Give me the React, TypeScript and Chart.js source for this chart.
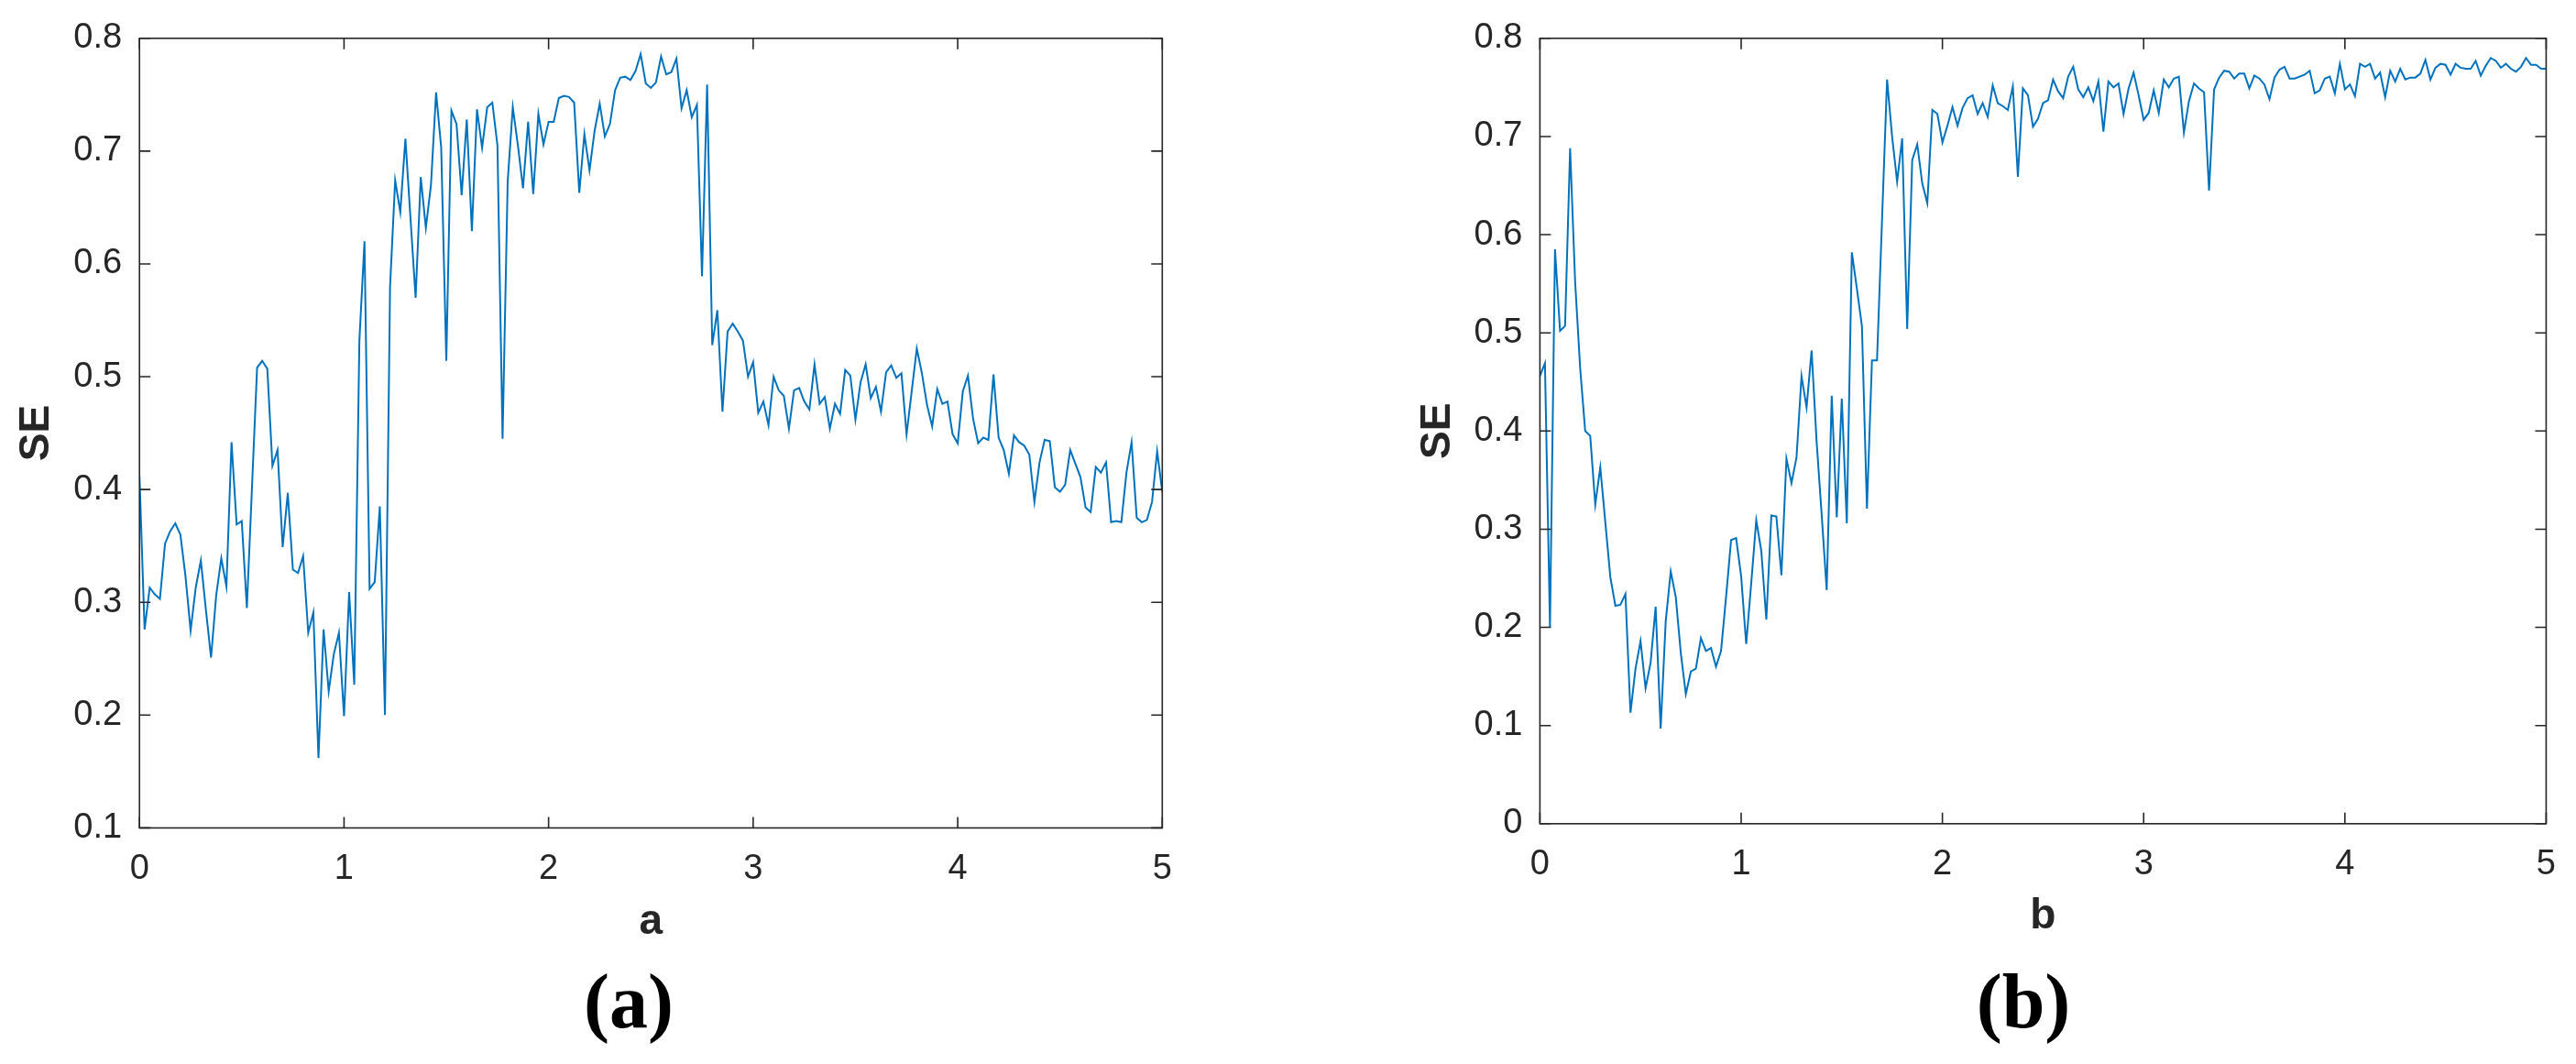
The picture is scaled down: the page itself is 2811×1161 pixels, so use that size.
import React, { useEffect, useRef } from "react";
import { Chart, registerables } from "chart.js";

Chart.register(...registerables);

// ---------- data ----------
const xStep = 0.025; // sample spacing on the x axis (201 samples from 0 to 5)

const seA = [
  0.412, 0.276, 0.313, 0.307, 0.303, 0.352, 0.363, 0.370, 0.360, 0.323,
  0.275, 0.313, 0.337, 0.293, 0.251, 0.306, 0.339, 0.314, 0.442, 0.369,
  0.372, 0.295, 0.402, 0.508, 0.514, 0.507, 0.421, 0.435, 0.349, 0.397,
  0.329, 0.326, 0.341, 0.273, 0.291, 0.162, 0.276, 0.221, 0.254, 0.273,
  0.199, 0.309, 0.227, 0.532, 0.620, 0.312, 0.318, 0.385, 0.200, 0.580,
  0.674, 0.646, 0.711, 0.640, 0.570, 0.677, 0.632, 0.670, 0.752, 0.703,
  0.514, 0.736, 0.724, 0.661, 0.728, 0.629, 0.737, 0.703, 0.739, 0.743,
  0.705, 0.445, 0.673, 0.739, 0.705, 0.667, 0.726, 0.662, 0.733, 0.706,
  0.726, 0.726, 0.747, 0.749, 0.748, 0.743, 0.663, 0.715, 0.683, 0.718,
  0.742, 0.713, 0.724, 0.754, 0.765, 0.766, 0.763, 0.771, 0.786, 0.760,
  0.756, 0.761, 0.784, 0.768, 0.770, 0.782, 0.738, 0.754, 0.730, 0.741,
  0.589, 0.759, 0.528, 0.559, 0.469, 0.540, 0.547, 0.540, 0.532, 0.500,
  0.513, 0.468, 0.478, 0.457, 0.500, 0.488, 0.483, 0.454, 0.488, 0.490,
  0.478, 0.471, 0.511, 0.476, 0.482, 0.454, 0.476, 0.467, 0.506, 0.501,
  0.462, 0.495, 0.511, 0.481, 0.491, 0.469, 0.504, 0.510, 0.499, 0.503,
  0.449, 0.487, 0.525, 0.503, 0.475, 0.456, 0.489, 0.476, 0.478, 0.449,
  0.441, 0.487, 0.501, 0.463, 0.441, 0.446, 0.444, 0.502, 0.446, 0.435,
  0.414, 0.448, 0.442, 0.439, 0.431, 0.389, 0.424, 0.444, 0.443, 0.402,
  0.398, 0.404, 0.435, 0.423, 0.411, 0.384, 0.380, 0.420, 0.415, 0.424,
  0.371, 0.372, 0.371, 0.415, 0.442, 0.375, 0.371, 0.373, 0.389, 0.434,
  0.398,
];

const seB = [
  0.456, 0.469, 0.200, 0.585, 0.502, 0.507, 0.688, 0.552, 0.464, 0.400,
  0.395, 0.325, 0.363, 0.307, 0.251, 0.222, 0.223, 0.234, 0.113, 0.158,
  0.186, 0.138, 0.164, 0.221, 0.097, 0.206, 0.257, 0.231, 0.174, 0.132,
  0.155, 0.158, 0.189, 0.176, 0.179, 0.160, 0.176, 0.231, 0.289, 0.291,
  0.252, 0.183, 0.245, 0.309, 0.278, 0.208, 0.314, 0.313, 0.253, 0.372,
  0.347, 0.373, 0.456, 0.424, 0.482, 0.389, 0.315, 0.238, 0.436, 0.312,
  0.433, 0.306, 0.582, 0.545, 0.507, 0.321, 0.472, 0.472, 0.615, 0.758,
  0.700, 0.654, 0.698, 0.504, 0.676, 0.692, 0.652, 0.632, 0.727, 0.723,
  0.694, 0.711, 0.730, 0.711, 0.729, 0.739, 0.742, 0.723, 0.734, 0.720,
  0.752, 0.734, 0.731, 0.727, 0.751, 0.659, 0.749, 0.742, 0.710, 0.718,
  0.734, 0.737, 0.758, 0.746, 0.739, 0.761, 0.771, 0.748, 0.740, 0.750,
  0.736, 0.756, 0.705, 0.756, 0.750, 0.754, 0.723, 0.749, 0.765, 0.742,
  0.717, 0.724, 0.747, 0.724, 0.758, 0.750, 0.759, 0.761, 0.704, 0.736,
  0.754, 0.749, 0.745, 0.645, 0.748, 0.760, 0.767, 0.766, 0.759, 0.764,
  0.764, 0.749, 0.762, 0.759, 0.753, 0.738, 0.760, 0.768, 0.771, 0.759,
  0.759, 0.761, 0.763, 0.767, 0.744, 0.747, 0.759, 0.761, 0.744, 0.774,
  0.748, 0.753, 0.741, 0.774, 0.771, 0.774, 0.759, 0.765, 0.740, 0.767,
  0.756, 0.769, 0.758, 0.760, 0.760, 0.764, 0.778, 0.758, 0.770, 0.774,
  0.773, 0.763, 0.774, 0.770, 0.769, 0.769, 0.777, 0.762, 0.772, 0.780,
  0.777, 0.770, 0.774, 0.769, 0.766, 0.771, 0.780, 0.773, 0.773, 0.769,
  0.769,
];

const xTicks = [0, 1, 2, 3, 4, 5];
const xTickLabels = ["0", "1", "2", "3", "4", "5"];
const yTicksA = [0.1, 0.2, 0.3, 0.4, 0.5, 0.6, 0.7, 0.8];
const yTickLabelsA = ["0.1", "0.2", "0.3", "0.4", "0.5", "0.6", "0.7", "0.8"];
const yTicksB = [0, 0.1, 0.2, 0.3, 0.4, 0.5, 0.6, 0.7, 0.8];
const yTickLabelsB = ["0", "0.1", "0.2", "0.3", "0.4", "0.5", "0.6", "0.7", "0.8"];

const yTitle = "SE";
const xTitleA = "a";
const xTitleB = "b";
const captionA = "(a)";
const captionB = "(b)";

// ---------- style ----------
const LINE_COLOR = "#0072BD";
const AXIS_COLOR = "#262626";
const TICK_FONT = { family: "'Liberation Sans', Arial, Helvetica, sans-serif", size: 38, lineHeight: 1.2 };
const TITLE_FONT = { family: "'Liberation Sans', Arial, Helvetica, sans-serif", size: 46, weight: "bold" as const, lineHeight: 1.2 };
const TICK_LEN = 12;

const boxPlugin = {
  id: "matlabBox",
  afterDatasetsDraw(chart: any, _args: any, opts: any) {
    const { ctx, chartArea } = chart;
    const { left, right, top, bottom } = chartArea;
    const xs = chart.scales.x;
    const ys = chart.scales.y;
    ctx.save();
    ctx.strokeStyle = AXIS_COLOR;
    ctx.lineWidth = 1.6;
    ctx.strokeRect(left, top, right - left, bottom - top);
    ctx.beginPath();
    xs.ticks.forEach((t: any) => {
      const px = xs.getPixelForValue(t.value);
      ctx.moveTo(px, bottom);
      ctx.lineTo(px, bottom - TICK_LEN);
      ctx.moveTo(px, top);
      ctx.lineTo(px, top + TICK_LEN);
    });
    ys.ticks.forEach((t: any) => {
      const py = ys.getPixelForValue(t.value);
      ctx.moveTo(left, py);
      ctx.lineTo(left + TICK_LEN, py);
      ctx.moveTo(right, py);
      ctx.lineTo(right - TICK_LEN, py);
    });
    ctx.stroke();
    if (opts && opts.caption) {
      ctx.fillStyle = "#000";
      ctx.font = "bold 84px 'Liberation Serif', 'Times New Roman', serif";
      ctx.textAlign = "center";
      ctx.textBaseline = "alphabetic";
      ctx.fillText(opts.caption, opts.captionX, opts.captionY);
    }
    ctx.restore();
  },
};

type Params = {
  values: number[];
  yMin: number;
  yMax: number;
  yTicks: number[];
  yTickLabels: string[];
  xTitle: string;
  padTop: number;
  padRight: number;
  padBottom: number;
  yAxisW: number;
  xAxisH: number;
  yTitlePad: number;
  caption: string;
  captionX: number;
  captionY: number;
};

function makeConfig(p: Params): any {
  const points = p.values.map((v, i) => ({ x: i * xStep, y: v }));
  return {
    type: "line",
    data: {
      datasets: [
        {
          data: points,
          borderColor: LINE_COLOR,
          borderWidth: 2,
          pointRadius: 0,
          tension: 0,
          fill: false,
        },
      ],
    },
    options: {
      animation: false,
      responsive: false,
      maintainAspectRatio: false,
      events: [],
      layout: { padding: { left: 0, top: p.padTop, right: p.padRight, bottom: p.padBottom } },
      plugins: {
        legend: { display: false },
        tooltip: { enabled: false },
        title: { display: false },
        matlabBox: { caption: p.caption, captionX: p.captionX, captionY: p.captionY },
      },
      scales: {
        x: {
          type: "linear",
          min: 0,
          max: 5,
          afterBuildTicks: (s: any) => {
            s.ticks = xTicks.map((v) => ({ value: v }));
          },
          afterFit: (s: any) => {
            s.height = p.xAxisH;
          },
          grid: { display: false, drawTicks: false },
          border: { display: false },
          ticks: {
            padding: 22,
            font: TICK_FONT,
            color: AXIS_COLOR,
            maxRotation: 0,
            autoSkip: false,
            callback: (_v: any, i: number) => xTickLabels[i],
          },
          title: { display: true, text: p.xTitle, font: TITLE_FONT, color: AXIS_COLOR, padding: 0 },
        },
        y: {
          type: "linear",
          min: p.yMin,
          max: p.yMax,
          afterBuildTicks: (s: any) => {
            s.ticks = p.yTicks.map((v) => ({ value: v }));
          },
          afterFit: (s: any) => {
            s.width = p.yAxisW;
          },
          grid: { display: false, drawTicks: false },
          border: { display: false },
          ticks: {
            padding: 19,
            font: TICK_FONT,
            color: AXIS_COLOR,
            autoSkip: false,
            callback: (_v: any, i: number) => p.yTickLabels[i],
          },
          title: {
            display: true,
            text: yTitle,
            font: TITLE_FONT,
            color: AXIS_COLOR,
            padding: { top: p.yTitlePad, bottom: 0 },
          },
        },
      },
    },
    plugins: [boxPlugin],
  };
}

function Panel(props: { params: Params; left: number; width: number; height: number }) {
  const ref = useRef<HTMLCanvasElement | null>(null);
  useEffect(() => {
    if (!ref.current) return;
    const chart = new Chart(ref.current, makeConfig(props.params));
    return () => chart.destroy();
  }, []);
  return (
    <canvas
      ref={ref}
      width={props.width}
      height={props.height}
      style={{ position: "absolute", left: props.left, top: 0, width: props.width, height: props.height }}
    />
  );
}

const paramsA: Params = {
  values: seA,
  yMin: 0.1,
  yMax: 0.8,
  yTicks: yTicksA,
  yTickLabels: yTickLabelsA,
  xTitle: xTitleA,
  padTop: 31.4,
  padRight: 1405 - 1268.3,
  padBottom: 1161 - 1033.6,
  yAxisW: 152.2,
  xAxisH: 130.2,
  yTitlePad: 12.4,
  caption: captionA,
  captionX: 686,
  captionY: 1121,
};

const paramsB: Params = {
  values: seB,
  yMin: 0,
  yMax: 0.8,
  yTicks: yTicksB,
  yTickLabels: yTickLabelsB,
  xTitle: xTitleB,
  padTop: 36.4,
  padRight: 1406 - (2784.5 - 1405),
  padBottom: 1161 - 1027.6,
  yAxisW: 1680.4 - 1405,
  xAxisH: 128.8,
  yTitlePad: 136.4,
  caption: captionB,
  captionX: 2208 - 1405,
  captionY: 1121,
};

export default function App() {
  return (
    <div
      style={{
        position: "absolute",
        left: 0,
        top: 0,
        width: 2811,
        height: 1161,
        overflow: "hidden",
        background: "#ffffff",
      }}
    >
      <Panel params={paramsA} left={0} width={1405} height={1161} />
      <Panel params={paramsB} left={1405} width={1406} height={1161} />
    </div>
  );
}
